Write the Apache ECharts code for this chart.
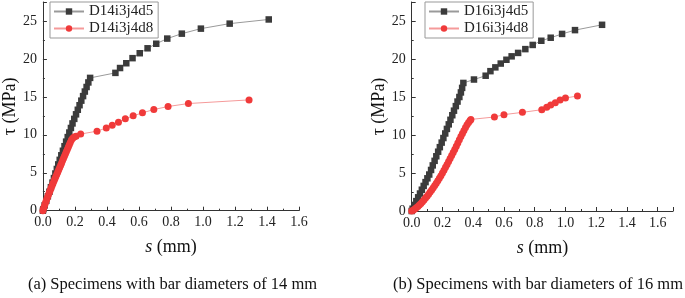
<!DOCTYPE html>
<html>
<head>
<meta charset="utf-8">
<script src="https://cdn.jsdelivr.net/npm/echarts@6/dist/echarts.min.js"></script>
<style>
  html, body { margin: 0; padding: 0; background: #fff; }
  #chart_box { width: 685px; height: 298px; }
</style>
</head>
<body>
<div id="chart_box"></div>
<script>
// (a) bar diameter 14 mm
var s14d5 = [0, 0.003, 0.011, 0.021, 0.031, 0.041, 0.050, 0.060, 0.069, 0.078, 0.087, 0.096, 0.105, 0.115, 0.125, 0.135, 0.145, 0.155, 0.165, 0.175, 0.185, 0.196, 0.207, 0.218, 0.229, 0.240, 0.251, 0.262, 0.273, 0.284, 0.295,
  0.453, 0.482, 0.521, 0.560, 0.605, 0.654, 0.708, 0.777, 0.868, 0.987, 1.167, 1.411];
var t14d5 = [0, 0.2, 0.7, 1.3, 1.9, 2.5, 3.1, 3.7, 4.3, 4.9, 5.5, 6.1, 6.7, 7.3, 7.9, 8.5, 9.1, 9.7, 10.3, 10.9, 11.5, 12.1, 12.7, 13.3, 13.9, 14.5, 15.1, 15.7, 16.3, 16.9, 17.5,
  18.16, 18.8, 19.43, 20.1, 20.75, 21.4, 22.0, 22.68, 23.33, 23.99, 24.65, 25.2];
var s14d8 = [0, 0.004, 0.009, 0.014, 0.019, 0.024, 0.029, 0.035, 0.040, 0.046, 0.051, 0.057, 0.063, 0.069, 0.075, 0.081, 0.087, 0.093, 0.099, 0.105, 0.111, 0.117, 0.123, 0.129, 0.135, 0.141, 0.147, 0.153, 0.159, 0.165, 0.171, 0.178, 0.186, 0.195, 0.207,
  0.236, 0.338, 0.396, 0.433, 0.472, 0.515, 0.564, 0.622, 0.693, 0.782, 0.909, 1.288];
var t14d8 = [0, 0.3, 0.6, 0.9, 1.2, 1.5, 1.8, 2.1, 2.4, 2.7, 3.0, 3.3, 3.6, 3.9, 4.2, 4.5, 4.8, 5.1, 5.4, 5.7, 6.0, 6.3, 6.6, 6.9, 7.2, 7.5, 7.8, 8.1, 8.4, 8.7, 9.0, 9.3, 9.55, 9.7, 9.8,
  10.1, 10.48, 10.9, 11.27, 11.67, 12.1, 12.5, 12.9, 13.33, 13.73, 14.12, 14.6];

// (b) bar diameter 16 mm
var s16d5 = [0, 0.006, 0.018, 0.030, 0.042, 0.054, 0.066, 0.078, 0.090, 0.102, 0.114, 0.126, 0.137, 0.149, 0.160, 0.172, 0.183, 0.195, 0.206, 0.218, 0.229, 0.241, 0.252, 0.264, 0.275, 0.287, 0.298, 0.310, 0.320, 0.328, 0.336,
  0.405, 0.481, 0.512, 0.544, 0.579, 0.616, 0.650, 0.692, 0.739, 0.787, 0.843, 0.904, 0.978, 1.062, 1.238];
var t16d5 = [0, 0.3, 0.8, 1.3, 1.8, 2.3, 2.8, 3.3, 3.8, 4.3, 4.8, 5.4, 6.0, 6.6, 7.2, 7.8, 8.4, 9.0, 9.6, 10.2, 10.8, 11.4, 12.0, 12.6, 13.2, 13.8, 14.4, 15.0, 15.6, 16.2, 16.85,
  17.3, 17.8, 18.4, 18.9, 19.4, 19.9, 20.35, 20.8, 21.3, 21.85, 22.4, 22.8, 23.3, 23.8, 24.5];
var s16d8 = [0, 0.01, 0.02, 0.03, 0.04, 0.05, 0.06, 0.07, 0.08, 0.09, 0.10, 0.11, 0.12, 0.13, 0.14, 0.15, 0.16, 0.17, 0.18, 0.19, 0.20, 0.21, 0.22, 0.23, 0.24, 0.25, 0.26, 0.27, 0.28, 0.29, 0.30, 0.31, 0.32, 0.33, 0.34, 0.35, 0.36, 0.37, 0.38, 0.385,
  0.538, 0.600, 0.720, 0.846, 0.878, 0.904, 0.934, 0.965, 1.000, 1.078];
var t16d8 = [0, 0.10, 0.25, 0.42, 0.60, 0.80, 1.00, 1.22, 1.45, 1.70, 1.95, 2.22, 2.50, 2.77, 3.05, 3.35, 3.65, 3.97, 4.30, 4.65, 5.00, 5.37, 5.75, 6.12, 6.50, 6.90, 7.30, 7.70, 8.10, 8.52, 8.95, 9.38, 9.80, 10.20, 10.60, 11.00, 11.35, 11.65, 11.90, 12.05,
  12.37, 12.68, 12.98, 13.33, 13.64, 13.95, 14.25, 14.60, 14.87, 15.13];

var seriesNames = ["D14i3j4d5", "D14i3j4d8", "D16i3j4d5", "D16i3j4d8"];
var captions = ["(a) Specimens with bar diameters of 14 mm", "(b) Specimens with bar diameters of 16 mm"];

var FONT = "Liberation Serif";

function pairs(xs, ys) {
  return xs.map(function (x, i) { return [x, ys[i]]; });
}

function xAxisOf(idx, max) {
  return {
    type: "value", gridIndex: idx, min: 0, max: max, interval: 0.2,
    name: "{i|s} (mm)", nameLocation: "middle", nameGap: 28,
    nameTextStyle: {
      fontFamily: FONT, fontSize: 18, color: "#111",
      rich: { i: { fontFamily: FONT, fontStyle: "italic", fontSize: 18, color: "#111" } }
    },
    axisLine: { lineStyle: { color: "#333", width: 1 } },
    axisTick: { inside: true, length: 4, lineStyle: { color: "#333" } },
    minorTick: { show: true, splitNumber: 2, length: 2, lineStyle: { color: "#333" } },
    splitLine: { show: false },
    axisLabel: {
      margin: 5, fontFamily: FONT, fontSize: 14, color: "#222",
      showMaxLabel: max === 1.6,
      formatter: function (v) { return v > 1.6001 ? "" : v.toFixed(1); }
    }
  };
}

function yAxisOf(idx) {
  return {
    type: "value", gridIndex: idx, min: 0, max: 27.5, interval: 5,
    name: "τ (MPa)", nameLocation: "middle", nameGap: 21, nameRotate: 90,
    nameTextStyle: { fontFamily: FONT, fontSize: 18, color: "#111" },
    axisLine: { show: true, lineStyle: { color: "#333", width: 1 } },
    axisTick: { show: true, inside: true, length: 4, lineStyle: { color: "#333" } },
    minorTick: { show: true, splitNumber: 2, length: 2, lineStyle: { color: "#333" } },
    splitLine: { show: false },
    axisLabel: {
      margin: 6, fontFamily: FONT, fontSize: 14, color: "#222", showMaxLabel: false
    }
  };
}

function lineSeries(name, idx, data, black) {
  return {
    name: name, type: "line", xAxisIndex: idx, yAxisIndex: idx,
    data: data,
    symbol: black ? "rect" : "circle",
    symbolSize: black ? 6.5 : 7,
    showAllSymbol: true,
    animation: false,
    itemStyle: { color: black ? "#3b3b3b" : "#f03a3a" },
    lineStyle: { color: black ? "#9a9a9a" : "#f59a9a", width: 1 }
  };
}

function legendOf(left, names) {
  return {
    left: left, top: 2, orient: "vertical",
    data: names,
    itemWidth: 30, itemHeight: 8, itemGap: 2,
    padding: [2, 5, 2, 3],
    borderColor: "#999", borderWidth: 1,
    textStyle: { fontFamily: FONT, fontSize: 15, color: "#222" }
  };
}

var mycharts = echarts.init(document.getElementById("chart_box"), null, { renderer: "canvas" });

var option = {
  backgroundColor: "#fff",
  animation: false,
  grid: [
    { left: 39, top: 2, width: 260, height: 208.7 },
    { left: 411.7, top: 2, width: 261.4, height: 209 }
  ],
  legend: [
    legendOf(50, [seriesNames[0], seriesNames[1]]),
    legendOf(425, [seriesNames[2], seriesNames[3]])
  ],
  xAxis: [xAxisOf(0, 1.6), xAxisOf(1, 1.7)],
  yAxis: [yAxisOf(0), yAxisOf(1)],
  series: [
    lineSeries(seriesNames[0], 0, pairs(s14d5, t14d5), true),
    lineSeries(seriesNames[1], 0, pairs(s14d8, t14d8), false),
    lineSeries(seriesNames[2], 1, pairs(s16d5, t16d5), true),
    lineSeries(seriesNames[3], 1, pairs(s16d8, t16d8), false)
  ],
  graphic: [
    { type: "text", x: 172.5, y: 285, style: { text: captions[0], font: "16.5px '" + FONT + "'", fill: "#111", textAlign: "center", textVerticalAlign: "middle" } },
    { type: "text", x: 538, y: 285, style: { text: captions[1], font: "16.5px '" + FONT + "'", fill: "#111", textAlign: "center", textVerticalAlign: "middle" } }
  ]
};

mycharts.setOption(option);
</script>
</body>
</html>
